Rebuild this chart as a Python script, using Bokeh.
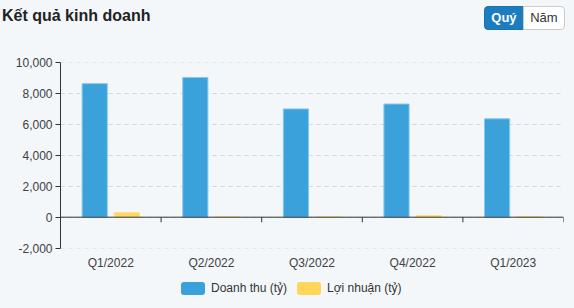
from bokeh.plotting import figure
from bokeh.models import (Range1d, FixedTicker, NumeralTickFormatter, Div, RadioButtonGroup,
                          InlineStyleSheet, ColumnDataSource, Span)
from bokeh.layouts import column, row
from bokeh.embed import file_html
from bokeh.resources import INLINE

title_text = "Kết quả kinh doanh"
period_labels = ["Quý", "Năm"]
quarters = ["Q1/2022", "Q2/2022", "Q3/2022", "Q4/2022", "Q1/2023"]
revenue = [8660, 9060, 7020, 7340, 6380]
profit = [300, 15, 10, 110, 20]
y_ticks = [-2000, 0, 2000, 4000, 6000, 8000, 10000]
series_names = ["Doanh thu (tỷ)", "Lợi nhuận (tỷ)"]
series_colors = ["#3aa1da", "#fdd75f"]

BG = "#f3f7fa"
FONT = "Liberation Sans"

idx = list(range(len(quarters)))
src = ColumnDataSource(dict(
    xr=[i + 0.34 for i in idx],
    xp=[i + 0.66 for i in idx],
    revenue=revenue, profit=profit, q=quarters))

# ---- header (title + period buttons)
title_div = Div(text=title_text, width=482, height=36, margin=(0, 0, 0, 2),
                styles={"font-family": FONT, "font-size": "16px", "font-weight": "bold",
                        "color": "#222222", "line-height": "31px", "background-color": BG})
btn_css = InlineStyleSheet(css="""
.bk-btn-group { height: 24px; }
.bk-btn, .bk-btn.bk-btn-default {
  font-family: 'Liberation Sans', Arial, sans-serif !important;
  font-size: 13px !important;
  height: 24px !important;
  line-height: 22px !important;
  padding: 0 5px !important;
  background: #ffffff !important;
  color: #333333 !important;
  border: 1px solid #cccccc !important;
  box-shadow: none !important;
}
.bk-btn.bk-active {
  background: #1b7cbf !important;
  color: #ffffff !important;
  font-weight: bold !important;
  border-color: #1a72ae !important;
}
""")
buttons = RadioButtonGroup(labels=period_labels, active=0, width=81, height=24,
                           margin=(6, 9, 6, 0), stylesheets=[btn_css])
header = row(title_div, buttons, width=574, height=36, styles={"background-color": BG})

# ---- chart
p = figure(width=574, height=236, output_backend="svg", toolbar_location=None,
           x_range=Range1d(0, len(quarters)), y_range=Range1d(y_ticks[0] - 30, y_ticks[-1] + 30),
           min_border_left=60, min_border_right=11, min_border_top=26, min_border_bottom=23,
           background_fill_color=BG, border_fill_color=BG, outline_line_color=None)

r1 = p.vbar(x="xr", top="revenue", width=0.25, source=src,
            fill_color=series_colors[0], line_color="#86c8ee", line_width=1)
r2 = p.vbar(x="xp", top="profit", width=0.25, source=src,
            fill_color=series_colors[1], line_color="#fde08a", line_width=1)

ya = p.yaxis[0]
ya.ticker = FixedTicker(ticks=y_ticks)
ya.formatter = NumeralTickFormatter(format="0,0")
ya.bounds = (y_ticks[0], y_ticks[-1])
ya.axis_line_color = "#333333"
ya.major_tick_line_color = "#333333"
ya.major_tick_out = 5
ya.major_tick_in = 0
ya.minor_tick_line_color = None
ya.major_label_text_font = FONT
ya.major_label_text_font_size = "12px"
ya.major_label_text_color = "#404040"
ya.major_label_standoff = 3

xa = p.xaxis[0]
xa.ticker = FixedTicker(ticks=[i + 0.5 for i in idx])
xa.major_label_overrides = {i + 0.5: q for i, q in zip(idx, quarters)}
xa.axis_line_color = None
xa.major_tick_line_color = None
xa.major_tick_out = 0
xa.major_tick_in = 0
xa.minor_tick_line_color = None
xa.minor_tick_out = 0
xa.major_label_text_font = FONT
xa.major_label_text_font_size = "12px"
xa.major_label_text_color = "#404040"
xa.major_label_standoff = 7

# zero line with category boundary ticks
p.add_layout(Span(location=0, dimension="width", line_color="#333333", line_width=1))
bounds = list(range(len(quarters) + 1))
p.segment(x0=bounds, x1=bounds, y0=[0] * len(bounds), y1=[-330] * len(bounds),
          line_color="#333333", line_width=1)

p.xgrid.grid_line_color = None
p.ygrid.ticker = FixedTicker(ticks=y_ticks)
p.ygrid.grid_line_color = "#d3d7db"
p.ygrid.grid_line_dash = "4 4"

# ---- legend (below the chart)
def legend_item(left, color, name):
    return (f'<span style="position:absolute;left:{left}px;top:10px;width:24px;height:13px;'
            f'border-radius:3px;background:{color};"></span>'
            f'<span style="position:absolute;left:{left + 30}px;top:9px;line-height:15px;'
            f'font-family:{FONT};font-size:12px;color:#333333;white-space:nowrap;">{name}</span>')

legend_html = ('<div style="position:relative;width:574px;height:36px;">'
               + legend_item(181, series_colors[0], series_names[0])
               + legend_item(297, "#ffd658", series_names[1])
               + '</div>')
legend_div = Div(text=legend_html, width=574, height=36, margin=(0, 0, 0, 0),
                 styles={"background-color": BG})

layout = column(header, p, legend_div, width=574, height=308, styles={"background-color": BG})
open("out.html", "w").write(file_html(layout, INLINE))
